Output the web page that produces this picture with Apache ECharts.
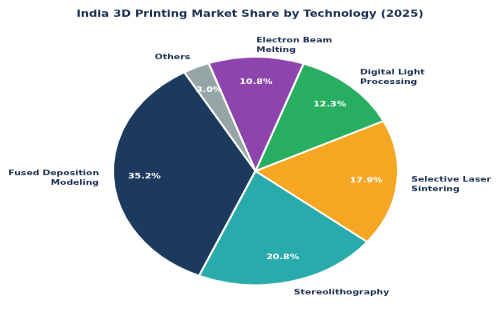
<!DOCTYPE html>
<html>
<head>
<meta charset="utf-8">
<script src="https://cdn.jsdelivr.net/npm/echarts@6/dist/echarts.min.js"></script>
<style>
  html, body { margin: 0; padding: 0; background: #ffffff; overflow: hidden; }
  #wrap { width: 500px; height: 322px; overflow: hidden; }
  #chart { width: 500px; height: 402.5px; transform: scale(1, 0.8); transform-origin: 0 0; }
</style>
</head>
<body>
<div id="wrap"><div id="chart"></div></div>
<script>
const titleText = 'India 3D Printing Market Share by Technology (2025)';
const categories = ['Fused Deposition\nModeling', 'Stereolithography', 'Selective Laser\nSintering', 'Digital Light\nProcessing', 'Electron Beam\nMelting', 'Others'];
const values = [35.2, 20.8, 17.9, 12.3, 10.8, 3.0];
const sliceColors = ['#1c3a5e', '#2aabab', '#f5a623', '#27ae60', '#8e44ad', '#95a5a6'];

const chart = echarts.init(document.getElementById('chart'), null, { renderer: 'canvas' });
const textColor = '#1a2f50';
const font = 'DejaVu Sans';
const R = 142.5;
const C = [255.5, 213.75];

const data = categories.map((name, i) => ({ name: name, value: values[i] }));

chart.setOption({
  animation: false,
  backgroundColor: '#ffffff',
  title: {
    text: titleText,
    left: 'center',
    top: 7,
    textStyle: { fontFamily: font, fontWeight: 'bold', fontSize: 11.6, color: textColor }
  },
  color: sliceColors,
  series: [
    {
      type: 'pie',
      center: C,
      radius: [0, R],
      startAngle: 120,
      clockwise: false,
      avoidLabelOverlap: false,
      itemStyle: { borderColor: '#ffffff', borderWidth: 2 },
      label: {
        show: true,
        position: 'outside',
        formatter: '{b}',
        fontFamily: font,
        fontWeight: 'bold',
        fontSize: 9.3,
        lineHeight: 12,
        color: textColor,
        distanceToLabelLine: 0
      },
      labelLine: { show: false, length: R * 0.1, length2: 0 },
      emphasis: { disabled: true },
      data: data
    },
    {
      type: 'pie',
      center: C,
      radius: [R * 0.52, R],
      startAngle: 120,
      clockwise: false,
      silent: true,
      avoidLabelOverlap: false,
      itemStyle: { color: 'rgba(0,0,0,0)', borderWidth: 0 },
      label: {
        show: true,
        position: 'inside',
        formatter: p => p.value.toFixed(1) + '%',
        fontFamily: font,
        fontWeight: 'bold',
        fontSize: 9.5,
        color: '#ffffff'
      },
      labelLine: { show: false },
      emphasis: { disabled: true },
      data: data
    }
  ]
});
</script>
</body>
</html>
